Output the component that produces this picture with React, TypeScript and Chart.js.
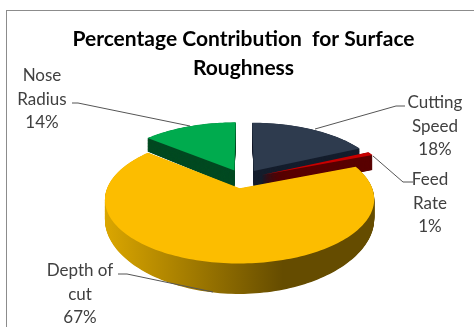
import React, { useEffect, useRef } from "react";
import { Chart, registerables } from "chart.js";

Chart.register(...registerables);

const titleLines = ["Percentage Contribution  for Surface", "Roughness"];
const categories = ["Cutting Speed", "Feed Rate", "Depth of cut", "Nose Radius"];
const values = [18, 1, 67, 14];
const labelLines = [["Cutting", "Speed"], ["Feed", "Rate"], ["Depth of", "cut"], ["Nose", "Radius"]];

const topColors = ["#2E3B4E", "#C80000", "#FCBD00", "#00AB4E"];
const wallColors = ["#151E2D", "#5A0000", "#000000", "#004A22"];
const drawOrder = [3, 0, 1, 2];

// Camera used to lay the flat pie onto a tilted plane with perspective.
const view = { cx: 243, y0: 178.7, fx: 129, fy: 58.8, k: 0.17, wall: 17.4, wallK: 0.37, explode: 0.16 };
const wallSteps = 45;

const labelBoxes = [
  { x: 435, y: 103, lead: [[405, 106], [396, 106], [315, 129]] },
  { x: 430, y: 180, lead: [[413, 182], [403, 182], [373, 156]] },
  { x: 80, y: 271, lead: [[118, 274], [127, 274], [213, 292]] },
  { x: 42, y: 76, lead: [[72, 103], [78, 103], [190, 126]] },
];

const project = (X: number, Z: number, drop: number) => {
  const w = 1 + view.k * Z;
  return [view.cx + (view.fx * X) / w, view.y0 - (view.fy * Z) / w + (drop * view.wall) / (1 + view.wallK * Z)];
};

const outline = (arc: any) => {
  const { startAngle, endAngle } = arc;
  const mid = (startAngle + endAngle) / 2;
  const ox = Math.cos(mid) * view.explode;
  const oz = -Math.sin(mid) * view.explode;
  const pts: number[][] = [[ox, oz]];
  const steps = Math.max(4, Math.ceil((endAngle - startAngle) * 40));
  for (let i = 0; i <= steps; i++) {
    const a = startAngle + ((endAngle - startAngle) * i) / steps;
    pts.push([ox + Math.cos(a), oz - Math.sin(a)]);
  }
  return pts;
};

const fillOutline = (ctx: any, pts: number[][], drop: number, fill: any) => {
  ctx.beginPath();
  pts.forEach((p, n) => {
    const a = project(p[0], p[1], drop);
    if (n === 0) ctx.moveTo(a[0], a[1]);
    else ctx.lineTo(a[0], a[1]);
  });
  ctx.closePath();
  ctx.fillStyle = fill;
  ctx.fill();
};

const tiltedPie = {
  id: "tiltedPie",
  beforeDatasetDraw(chart: any, args: any) {
    const { ctx } = chart;
    const arcs = args.meta.data;
    drawOrder.forEach((i) => {
      const pts = outline(arcs[i]);
      let wallFill: any = wallColors[i];
      if (i === 2) {
        const g = ctx.createLinearGradient(106, 0, 374, 0);
        g.addColorStop(0, "#DAA600");
        g.addColorStop(0.66, "#654C00");
        g.addColorStop(1, "#654C00");
        wallFill = g;
      }
      ctx.save();
      // Side wall: the slice outline swept downward in sub-pixel steps.
      for (let s = wallSteps; s > 0; s--) fillOutline(ctx, pts, s / wallSteps, wallFill);
      fillOutline(ctx, pts, 0, topColors[i]);
      ctx.restore();
    });
    return false;
  },
  afterDatasetsDraw(chart: any) {
    const { ctx } = chart;
    ctx.save();
    ctx.textAlign = "center";
    ctx.textBaseline = "middle";
    ctx.font = "17px Lato";
    labelBoxes.forEach((box, i) => {
      ctx.strokeStyle = "#555555";
      ctx.lineWidth = 1;
      ctx.beginPath();
      box.lead.forEach((p, n) => (n === 0 ? ctx.moveTo(p[0], p[1]) : ctx.lineTo(p[0], p[1])));
      ctx.stroke();
      ctx.fillStyle = "#404040";
      [...labelLines[i], `${values[i]}%`].forEach((line, n) => {
        ctx.fillText(line, box.x, box.y + n * 23.5);
      });
    });
    ctx.restore();
  },
};

export default function App() {
  const ref = useRef<HTMLCanvasElement | null>(null);
  useEffect(() => {
    document.body.style.margin = "0";
    const chart = new Chart(ref.current as HTMLCanvasElement, {
      type: "pie",
      data: {
        labels: categories,
        datasets: [{ data: values, backgroundColor: topColors, borderWidth: 0 }],
      },
      options: {
        responsive: false,
        animation: false,
        layout: { padding: { top: 25, bottom: 10, left: 13 } },
        plugins: {
          legend: { display: false },
          tooltip: { enabled: false },
          title: {
            display: true,
            text: titleLines,
            color: "#000000",
            font: { family: "Lato", size: 21, weight: "bold", lineHeight: 1.38 },
            padding: { top: 0, bottom: 0 },
          },
        },
      },
      plugins: [tiltedPie],
    } as any);
    return () => chart.destroy();
  }, []);
  return (
    <div style={{ position: "relative", width: 474, height: 327, overflow: "hidden", background: "#fff" }}>
      <div style={{ position: "absolute", left: 6, top: 10, width: 480, height: 340, border: "1px solid #8c8c8c" }} />
      <canvas ref={ref} width={474} height={327} style={{ position: "absolute", left: 0, top: 0 }} />
    </div>
  );
}
